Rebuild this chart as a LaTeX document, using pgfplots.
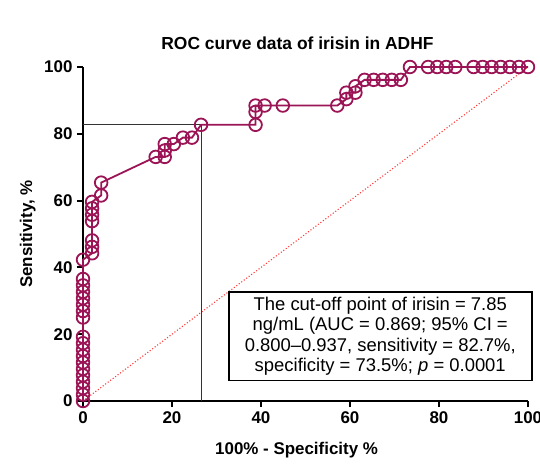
\documentclass[border=0pt]{standalone}
\usepackage{fontspec}
\setmainfont{Liberation Sans}
\usepackage{pgfplots}
\pgfplotsset{compat=1.18}
\definecolor{roc}{RGB}{155,20,85}
\definecolor{diag}{RGB}{255,60,60}

\begin{document}
\begin{tikzpicture}
\path[use as bounding box] (-83bp,-63bp) rectangle (457bp,401bp);
\begin{axis}[
    scale only axis,
    width=445bp, height=334bp,
    at={(0,0)}, anchor=south west,
    xmin=0, xmax=100, ymin=0, ymax=100,
    axis x line=bottom, axis y line=left,
    axis line style={-, line width=2.2bp},
    xtick={0,20,...,100}, ytick={0,20,...,100},
    tick style={line width=2bp, black},
    tick align=outside, major tick length=6bp,
    /pgf/number format/assume math mode=true,
    ticklabel style={font=\fontsize{17}{19}\selectfont\bfseries},
    xticklabel style={yshift=-1bp},
    yticklabel style={xshift=-1bp},
    xlabel={100\% - Specificity \%},
    ylabel={Sensitivity, \%},
    label style={font=\fontsize{17}{20}\selectfont\bfseries},
    xlabel style={at={(axis description cs:0.48,-0.147)}, anchor=center},
    ylabel style={at={(axis description cs:-0.124,0.5)}, anchor=center},
    title={ROC curve data of irisin in ADHF},
    title style={font=\fontsize{17.5}{19}\selectfont\bfseries,
        at={(axis description cs:0.482,1.054)}, anchor=center},
    clip=false,
]
% chance line
\addplot[diag, line width=1.1bp, dotted] coordinates {(0,0) (100,100)};
% cut-off guide
\addplot[black!80, line width=0.8bp] coordinates {(0,82.69) (26.53,82.69) (26.53,0)};
% ROC curve
\addplot[roc, line width=1.8bp, mark=o, mark size=6.3bp,
    mark options={line width=1.8bp, fill=none}] coordinates {
(0,0) (0,1.92) (0,3.85) (0,5.77) (0,7.69) (0,9.62) (0,11.54) (0,13.46) (0,15.38)
(0,17.31) (0,19.23) (0,25.00) (0,26.92) (0,28.85) (0,30.77) (0,32.69) (0,34.62)
(0,36.54) (0,42.31)
(2.04,44.23) (2.04,46.15) (2.04,48.08) (2.04,53.85) (2.04,55.77) (2.04,57.69) (2.04,59.62)
(4.08,61.54) (4.08,65.38)
(16.33,73.08) (18.37,73.08) (18.37,75.00) (18.37,76.92) (20.41,76.92)
(22.45,78.85) (24.49,78.85) (26.53,82.69)
(38.78,82.69) (38.78,86.54) (38.78,88.46) (40.82,88.46) (44.90,88.46) (57.14,88.46)
(59.18,90.38) (59.18,92.31) (61.22,92.31) (61.22,94.23) (63.27,96.15)
(65.31,96.15) (67.35,96.15) (69.39,96.15) (71.43,96.15)
(73.47,100) (77.55,100) (79.59,100) (81.63,100) (83.67,100) (87.76,100)
(89.80,100) (91.84,100) (93.88,100) (95.92,100) (97.96,100) (100,100)
};
\node[draw, line width=1.6bp, fill=white, align=center, inner xsep=4bp, inner ysep=5bp,
    font=\fontsize{18.5}{20.5}\selectfont, minimum width=303bp]
    at (axis cs:66.8,19.4)
    {The cut-off point of irisin = 7.85\\
     ng/mL (AUC = 0.869; 95\% CI =\\
     0.800--0.937, sensitivity = 82.7\%,\\
     specificity = 73.5\%; \textit{p} = 0.0001};
\end{axis}
\end{tikzpicture}
\end{document}
